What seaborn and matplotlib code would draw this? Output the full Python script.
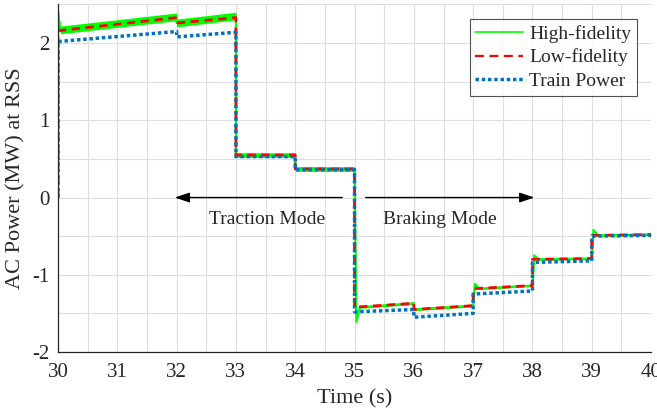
import numpy as np
import pandas as pd
import seaborn as sns
import matplotlib
matplotlib.use("Agg")
import matplotlib.pyplot as plt
from matplotlib.ticker import MultipleLocator
from matplotlib.lines import Line2D

# ---- data ----
t_high = [30, 30.0, 30.04, 32, 32.0, 33, 33.0, 34, 34.0, 35, 35.03, 35.09, 36, 36.0, 37, 37.03, 37.1, 38, 38.03, 38.1, 39, 39.03, 39.1, 40]
p_high = [0, 2.42, 2.17, 2.34, 2.26, 2.35, 0.55, 0.55, 0.37, 0.37, -1.61, -1.42, -1.37, -1.45, -1.40, -1.12, -1.18, -1.14, -0.75, -0.80, -0.79, -0.42, -0.49, -0.48]
ripple_high = [0, 0, 0.05, 0.05, 0.05, 0.05, 0.03, 0.03, 0.03, 0.03, 0, 0.015, 0.015, 0.015, 0.015, 0, 0.012, 0.012, 0, 0.012, 0.012, 0, 0.012, 0.012]

t_low = [30, 30.0, 32, 32.0, 33, 33.0, 34, 34.0, 35, 35.0, 36, 36.0, 37, 37.0, 38, 38.0, 39, 39.0, 40]
p_low = [0, 2.16, 2.33, 2.26, 2.33, 0.55, 0.55, 0.37, 0.37, -1.42, -1.37, -1.45, -1.40, -1.18, -1.14, -0.80, -0.79, -0.49, -0.48]

t_train = [30, 30.0, 32, 32.0, 33, 33.0, 34, 34.0, 35, 35.0, 36, 36.0, 37, 37.0, 38, 38.0, 39, 39.0, 40]
p_train = [0, 2.02, 2.15, 2.08, 2.14, 0.53, 0.53, 0.36, 0.36, -1.48, -1.45, -1.55, -1.50, -1.25, -1.21, -0.84, -0.82, -0.50, -0.49]

series_names = ["High-fidelity", "Low-fidelity", "Train Power"]

df_high = pd.DataFrame({"t": t_high, "p": p_high})
df_low = pd.DataFrame({"t": t_low, "p": p_low})
df_train = pd.DataFrame({"t": t_train, "p": p_train})

sns.set_style("white")
plt.rcParams["font.family"] = ["Liberation Serif", "DejaVu Serif"]
plt.rcParams["axes.unicode_minus"] = False

fig = plt.figure(figsize=(6.57, 4.11), dpi=100)
ax = fig.add_axes([0.0883, 0.1436, 0.9027, 0.8455])

green = "#00FF00"
red = "#FF0000"
blue = "#0072BD"

# high-fidelity ripple band + line
hi = np.array(p_high) + np.array(ripple_high)
lo = np.array(p_high) - np.array(ripple_high)
ax.fill_between(t_high, lo, hi, color=green, lw=0)
sns.lineplot(data=df_high, x="t", y="p", sort=False, estimator=None,
             color=green, lw=1.6, ax=ax, legend=False)
sns.lineplot(data=df_low, x="t", y="p", sort=False, estimator=None,
             color=red, lw=2, ax=ax, legend=False)
ax.lines[-1].set_dashes([3, 2])
sns.lineplot(data=df_train, x="t", y="p", sort=False, estimator=None,
             color=blue, lw=2.5, ax=ax, legend=False)
ax.lines[-1].set_linestyle((0, (1, 0.8)))

ax.set_xlim(30, 40)
ax.set_ylim(-2, 2.5)
ax.xaxis.set_major_locator(MultipleLocator(1))
ax.xaxis.set_minor_locator(MultipleLocator(0.5))
ax.yaxis.set_major_locator(MultipleLocator(1))
ax.yaxis.set_minor_locator(MultipleLocator(0.5))
ax.grid(True, which="both", color="#dedede", lw=0.8)
ax.set_axisbelow(True)
ax.tick_params(which="both", direction="in", length=4, width=0.8, color="#262626",
               labelsize=15, labelcolor="#262626")
ax.tick_params(axis="x", pad=8)
ax.tick_params(axis="y", pad=6)
for s in ["top", "right"]:
    ax.spines[s].set_visible(False)
for s in ["left", "bottom"]:
    ax.spines[s].set_color("#262626")
    ax.spines[s].set_linewidth(0.9)

ax.set_xlabel("Time (s)", fontsize=16, color="#262626", labelpad=5)
ax.set_ylabel("AC Power (MW) at RSS", fontsize=16, color="#262626", labelpad=5)

# annotations
ax.annotate("", xy=(31.92, 0.0), xytext=(34.84, 0.0),
            arrowprops=dict(arrowstyle="-|>,head_length=0.9,head_width=0.3", color="black", lw=1))
ax.annotate("", xy=(38.08, 0.0), xytext=(35.14, 0.0),
            arrowprops=dict(arrowstyle="-|>,head_length=0.9,head_width=0.3", color="black", lw=1))
ax.text(33.52, -0.28, "Traction Mode", ha="center", va="center", fontsize=14, color="#262626")
ax.text(36.44, -0.28, "Braking Mode", ha="center", va="center", fontsize=14, color="#262626")

handles = [Line2D([], [], color=green, lw=1.2),
           Line2D([], [], color=red, lw=1.6, dashes=[4, 2.5]),
           Line2D([], [], color=blue, lw=2.5, linestyle=(0, (1, 0.8)))]
leg = ax.legend(handles, series_names, loc="upper right", bbox_to_anchor=(0.976, 0.958),
                fontsize=14, frameon=True, fancybox=False, edgecolor="#262626",
                handlelength=2.45, handletextpad=0.3, borderpad=0.3, labelspacing=0.3,
                borderaxespad=0)
leg.get_frame().set_linewidth(0.8)

fig.savefig("out.png", dpi=100)
